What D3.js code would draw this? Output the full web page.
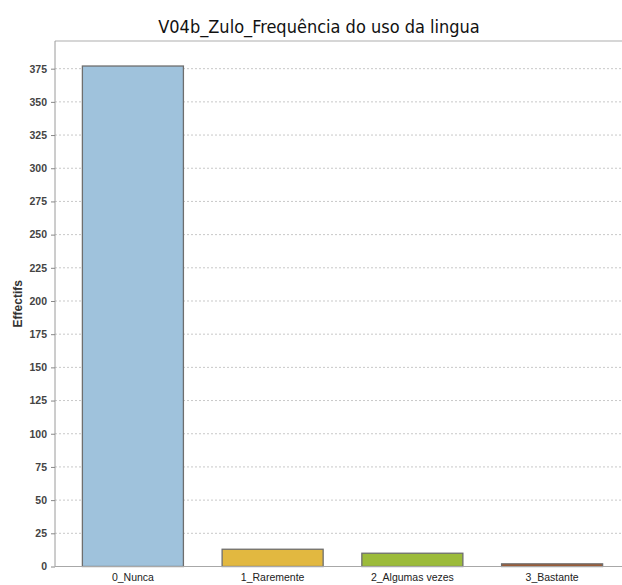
<!DOCTYPE html>
<html><head><meta charset="utf-8">
<script src="https://cdn.jsdelivr.net/npm/d3@7"></script>
<style>body{margin:0;background:#fff}svg{display:block}</style>
</head><body>
<script>
const title = "V04b_Zulo_Frequência do uso da lingua";
const yLabel = "Effectifs";
const categories = ["0_Nunca", "1_Raremente", "2_Algumas vezes", "3_Bastante"];
const values = [377, 13, 10, 2];
const colors = ["#9fc2dc", "#e2b840", "#9cbb3a", "#a35a30"];
const yTicks = [0,25,50,75,100,125,150,175,200,225,250,275,300,325,350,375];

const W = 622, H = 585;
const mLeft = 55, mRight = 630, mTop = 41, mBottom = 566.5;
const svg = d3.select("body").append("svg").attr("width", W).attr("height", H);

const x = d3.scaleBand().domain(categories).range([mLeft, mRight]).paddingInner(0.277).paddingOuter(0.196);
const y = d3.scaleLinear().domain([0, d3.max(values) * 1.05]).range([mBottom, mTop]);

// frame top
svg.append("line").attr("x1", mLeft).attr("x2", W).attr("y1", mTop).attr("y2", mTop)
  .attr("stroke", "#c8c8c8").attr("stroke-width", 1.5);

// gridlines
svg.append("g").selectAll("line").data(yTicks.filter(d => d > 0)).join("line")
  .attr("x1", mLeft).attr("x2", W).attr("y1", d => y(d)).attr("y2", d => y(d))
  .attr("stroke", "#c8c8c8").attr("stroke-width", 1).attr("stroke-dasharray", "2,2");

// bars
svg.append("g").selectAll("rect").data(values).join("rect")
  .attr("x", (d, i) => x(categories[i]))
  .attr("width", x.bandwidth())
  .attr("y", d => y(d))
  .attr("height", d => y(0) - y(d))
  .attr("fill", (d, i) => colors[i])
  .attr("stroke", "#6e6e6e").attr("stroke-width", 1.3);

// y axis
const ya = svg.append("g").attr("transform", `translate(${mLeft},0)`)
  .call(d3.axisLeft(y).tickValues(yTicks).tickSize(4).tickPadding(4));
ya.select(".domain").attr("stroke", "#9a9a9a").attr("d", `M0,${mTop}V${mBottom}`);
ya.selectAll(".tick line").attr("stroke", "#888");
ya.selectAll("text").attr("font-family", "Liberation Sans, Arial, sans-serif")
  .attr("font-size", 10.5).attr("font-weight", "bold").attr("fill", "#444");

// x axis
const xa = svg.append("g").attr("transform", `translate(0,${mBottom})`)
  .call(d3.axisBottom(x).tickSize(0).tickPadding(7));
xa.select(".domain").attr("stroke", "#a8a8a8").attr("d", `M${mLeft},0H${W}`);
xa.selectAll("text").attr("font-family", "Liberation Sans, Arial, sans-serif")
  .attr("font-size", 10.5).attr("fill", "#222");

// y label
svg.append("text").attr("transform", `translate(22,${(mTop + mBottom) / 2}) rotate(-90)`)
  .attr("text-anchor", "middle").attr("font-family", "Liberation Sans, Arial, sans-serif")
  .attr("font-size", 12).attr("font-weight", "bold").attr("fill", "#333").text(yLabel);

// title
svg.append("text").attr("x", 319).attr("y", 33).attr("text-anchor", "middle")
  .attr("font-family", "DejaVu Sans Condensed, Arial, sans-serif")
  .attr("font-size", 18).attr("fill", "#111").text(title);
</script>
</body></html>
